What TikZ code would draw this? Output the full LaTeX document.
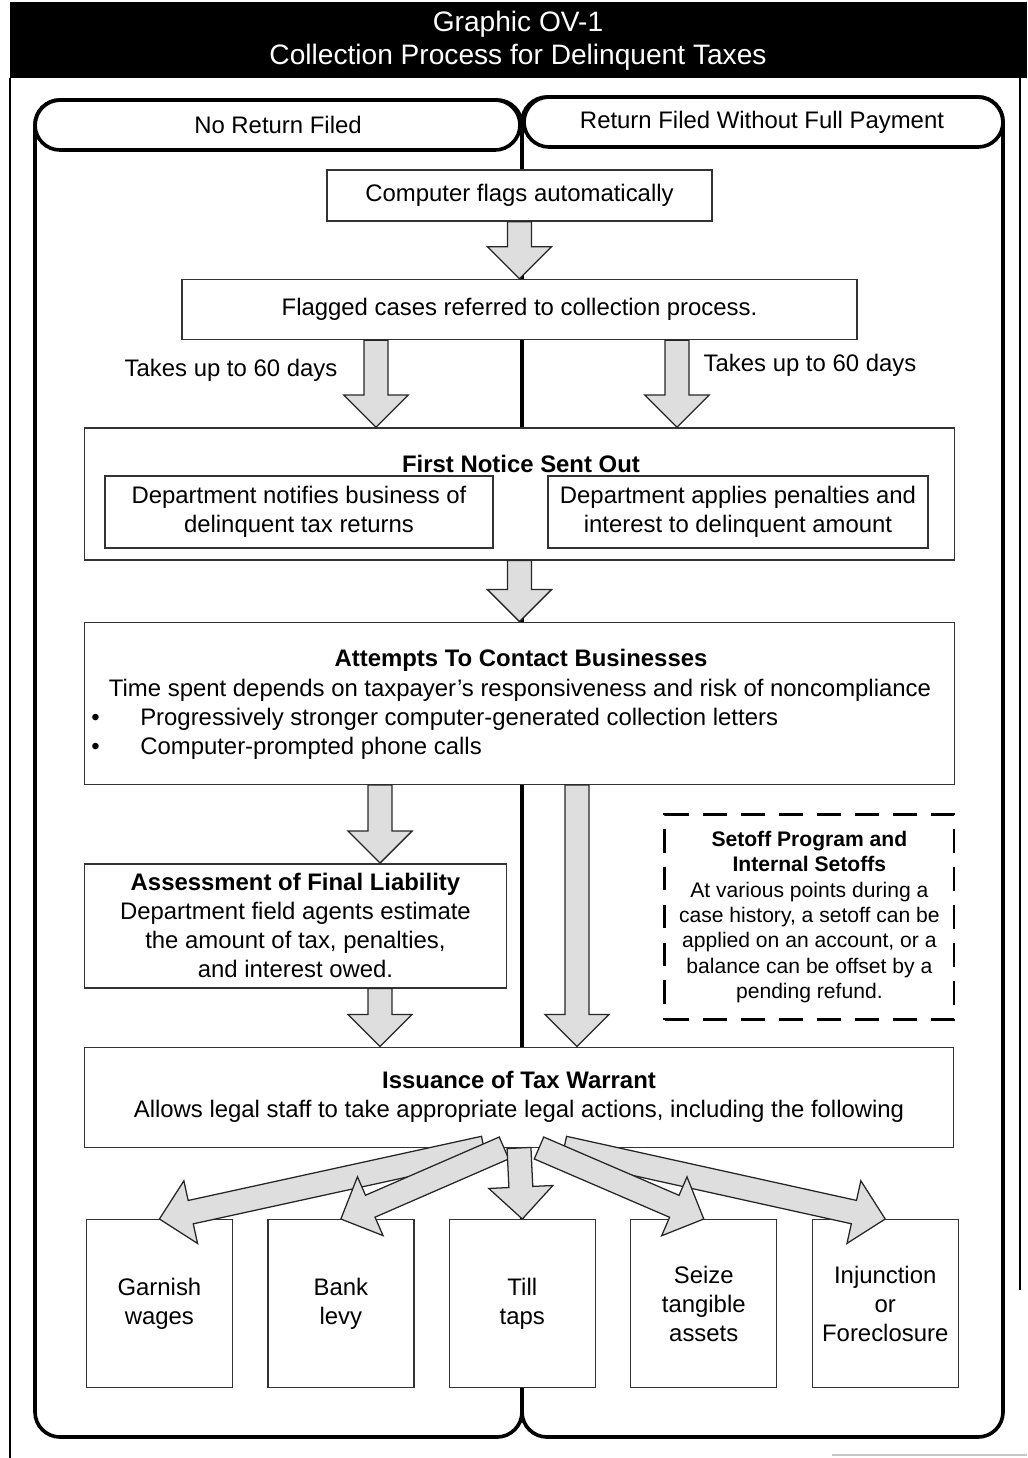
\documentclass[tikz,border=0pt]{standalone}
\usepackage{fontspec}
\setmainfont{Liberation Sans}
\usetikzlibrary{positioning,calc}

\tikzset{
  txt/.style={inner sep=0pt, align=center, font=\fontsize{17}{20.6}\selectfont},
  head/.style={txt, font=\fontsize{17}{20.6}\selectfont\bfseries},
  box/.style={txt, draw=black!80, line width=1pt, fill=white},
  setoffbox/.style={draw, line width=2pt, dash pattern=on 17pt off 10pt, fill=white,
    inner sep=0pt, align=center, font=\fontsize{15}{18.1}\selectfont},
  lane/.style={line width=2.6pt, rounded corners=0.625cm},
  fatarrow/.style={draw=black!85, line width=0.9pt, fill=black!13, line join=miter},
}

\newcommand{\fatarrow}[2]{%
  \draw[fatarrow] let \p1=(#1), \p2=(#2), \p3=($(\p2)!22.8pt!(\p1)$) in
    ($(\p1)!8.5pt!90:(\p2)$) -- ($(\p3)!8.5pt!90:(\p2)$) -- ($(\p3)!22.8pt!90:(\p2)$)
    -- (\p2) -- ($(\p3)!22.8pt!-90:(\p2)$) -- ($(\p3)!8.5pt!-90:(\p2)$)
    -- ($(\p1)!8.5pt!-90:(\p2)$) -- cycle;}

\begin{document}
\begin{tikzpicture}[x=0.025cm, y=-0.025cm]
\useasboundingbox (0,0) rectangle (1027,1458);
\fill (10,2) rectangle (1027,78);
\node[txt, text=white, font=\fontsize{20}{23.5}\selectfont] (title) at (518,40.5)
  {Graphic OV-1\\Collection Process for Delinquent Taxes};
\draw[line width=2pt] (10,78) -- (10,1458);
\draw[line width=1.5pt] (1020,78) -- (1020,1290);
\draw[gray!45, line width=1pt] (832,1455) -- (1027,1455);

\draw[lane] (35,100) rectangle (522,1437);
\draw[lane] (35,100) rectangle (520,150);
\draw[lane] (522,97) rectangle (1003,1437);
\draw[lane] (524,97) rectangle (1003,147);
\node[txt] (noreturn) at (278,125) {No Return Filed};
\node[txt] (withoutpay) at (762,122) {Return Filed Without Full Payment};

\node[box, minimum width=9.625cm, minimum height=1.275cm] (flags) at (519.5,195.5)
  {Computer flags automatically};
\node[box, minimum width=16.875cm, minimum height=1.5cm, below=1.425cm of flags] (flagged)
  {Flagged cases referred to collection process.};
\node[txt] (takesleft) at (231,370) {Takes up to 60 days};
\node[txt] (takesright) at (810,365) {Takes up to 60 days};

\node[box, minimum width=21.75cm, minimum height=3.3cm, below=2.175cm of flagged] (notice) {};
\node[head] (noticehead) at (521,464) {First Notice Sent Out};
\node[box, minimum width=9.7cm, minimum height=1.8cm] (notifies) at (299,512)
  {Department notifies business of\\delinquent tax returns};
\node[box, minimum width=9.5cm, minimum height=1.8cm] (penalties) at (738,512)
  {Department applies penalties and\\interest to delinquent amount};

\node[box, minimum width=21.75cm, minimum height=4.05cm, below=1.525cm of notice] (attempts) {};
\node[head] (attemptshead) at (521,660) {Attempts To Contact Businesses};
\node[txt] (timespent) at (520,690)
  {Time spent depends on taxpayer’s responsiveness and risk of noncompliance};
\node[txt, anchor=west, align=left] (bullets) at (91,734)
  {\makebox[1.225cm][l]{•}Progressively stronger computer-generated collection letters\\
   \makebox[1.225cm][l]{•}Computer-prompted phone calls};

\node[box, minimum width=10.55cm, minimum height=3.1cm,
  below right=1.95cm and 0cm of attempts.south west] (assess)
  {\textbf{Assessment of Final Liability}\\Department field agents estimate\\
   the amount of tax, penalties,\\and interest owed.};
\node[setoffbox, minimum width=7.225cm, minimum height=5.125cm,
  below left=0.7cm and 0cm of attempts.south east] (setoff)
  {\textbf{Setoff Program and}\\\textbf{Internal Setoffs}\\At various points during a\\
   case history, a setoff can be\\applied on an account, or a\\balance can be offset by a\\
   pending refund.};

\node[box, minimum width=21.725cm, minimum height=2.5cm,
  below right=1.45cm and 0cm of assess.south west] (issue)
  {\textbf{Issuance of Tax Warrant}\\Allows legal staff to take appropriate legal actions, including the following};

\node[box, minimum width=3.65cm, minimum height=4.2cm,
  below right=1.775cm and 0.05cm of issue.south west] (garnish) {Garnish\\wages};
\node[box, minimum width=3.65cm, minimum height=4.2cm, right=0.85cm of garnish] (levy) {Bank\\levy};
\node[box, minimum width=3.65cm, minimum height=4.2cm, right=0.85cm of levy] (tilltaps) {Till\\taps};
\node[box, minimum width=3.65cm, minimum height=4.2cm, right=0.85cm of tilltaps] (seize)
  {Seize\\tangible\\assets};
\node[box, minimum width=3.65cm, minimum height=4.2cm, right=0.85cm of seize] (injunction)
  {Injunction\\or\\Foreclosure};

\coordinate (xleft) at (376,0);
\coordinate (xright) at (677,0);
\coordinate (xassess) at (380,0);
\coordinate (xsetoff) at (577,0);
\fatarrow{flags.south}{flagged.north}
\fatarrow{flagged.south -| xleft}{notice.north -| xleft}
\fatarrow{flagged.south -| xright}{notice.north -| xright}
\fatarrow{notice.south}{attempts.north}
\fatarrow{attempts.south -| xassess}{assess.north -| xassess}
\fatarrow{attempts.south -| xsetoff}{issue.north -| xsetoff}
\fatarrow{assess.south -| xassess}{issue.north -| xassess}
\fatarrow{$(issue.south)+(-35,0)$}{garnish.north}
\fatarrow{$(issue.south)+(45,0)$}{injunction.north}
\fatarrow{$(issue.south)+(-15,0)$}{levy.north}
\fatarrow{$(issue.south)+(20,0)$}{seize.north}
\fatarrow{issue.south}{tilltaps.north}
\end{tikzpicture}
\end{document}
